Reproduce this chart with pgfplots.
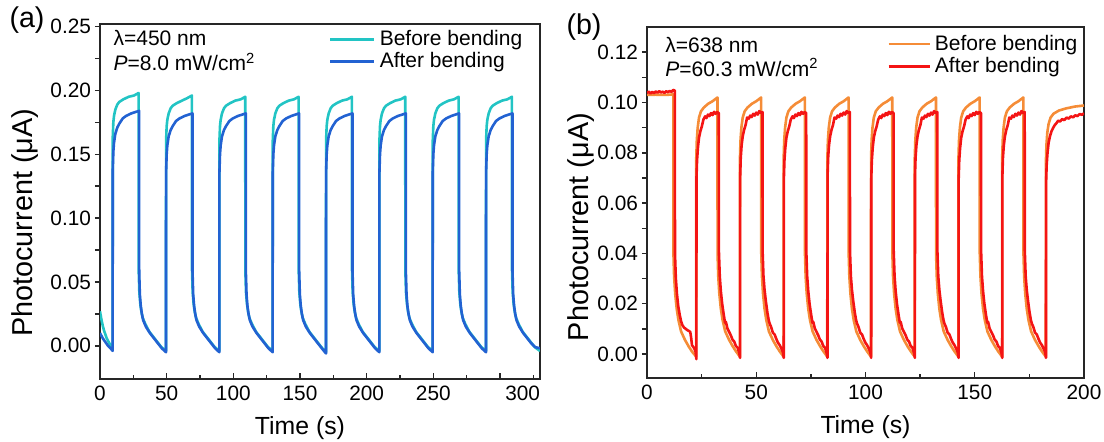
\documentclass[border=0pt]{standalone}
\usepackage{fontspec}
\setmainfont{Liberation Sans}
\usepackage{pgfplots}
\pgfplotsset{compat=1.18}
\definecolor{cBefA}{HTML}{22C4C4}
\definecolor{cAftA}{HTML}{2262D2}
\definecolor{cBefB}{HTML}{F58C37}
\definecolor{cAftB}{HTML}{F41414}
\pgfplotsset{
  photo/.style={
    scale only axis,
    axis line style={line width=0.7pt, black!85},
    tick style={line width=0.7pt, black!85},
    tick align=inside,
    major tick length=3pt, minor tick length=2.2pt,
    ytick style={xshift=-2.6pt},
    xtick pos=bottom, ytick pos=left,
    /pgf/number format/assume math mode=true,
    tick label style={font=\fontsize{10.4}{12}\selectfont},
    xlabel style={font=\fontsize{12.4}{14}\selectfont},
    ylabel style={font=\fontsize{14.4}{16}\selectfont},
    yticklabel style={/pgf/number format/fixed, /pgf/number format/fixed zerofill, /pgf/number format/precision=2, xshift=-1pt},
    legend cell align=left,
    legend image code/.code={\draw[#1] (0pt,0pt) -- (22pt,0pt);},
    every axis plot/.append style={line width=1.3pt, no markers, line join=round},
  },
}
\newcommand{\txt}{\fontsize{10.5}{12}\selectfont}
\begin{document}
\begin{tikzpicture}
\useasboundingbox (0,0) rectangle (552pt,220.5pt);
% ---------------- panel (a) ----------------
\begin{axis}[photo,
    at={(50pt,31pt)}, anchor=south west,
    width=220pt, height=177.5pt,
    xmin=0, xmax=330, ymin=-0.026, ymax=0.252,
    xtick={0,50,100,150,200,250,300}, xticklabels={0,50,100,150,200,250,{}},
    minor xtick={25,75,125,175,225,275,325},
    extra x ticks={317}, extra x tick labels={300}, extra x tick style={major tick length=0pt},
    ytick={0,0.05,0.10,0.15,0.20,0.25}, minor ytick={0.025,0.075,0.125,0.175,0.225},
    xlabel={Time (s)}, ylabel={Photocurrent (μA)},
    xlabel style={at={(axis description cs:0.4545,0)}, anchor=center, yshift=-24.5pt},
    ylabel style={at={(axis description cs:-0.17,0.44)}, anchor=center},
    legend style={at={(axis description cs:0.52,0.995)}, anchor=north west, draw=none, fill=none,
      inner sep=0pt, row sep=-2pt, font=\txt},
]
\addplot[cBefA] coordinates {
 (0,0.027) (1,0.021) (2,0.016) (3,0.012) (4,0.009) (5,0.006) (6,0.004) (7,0.002) (8,0.000) (9.5,-0.002)
 (9.55,0.163) (10,0.175) (10.5,0.180) (11.5,0.185) (13,0.189) (14.5,0.191) (17.5,0.193) (21.5,0.195) (25.5,0.196) (28.95,0.198)
 (29,0.060) (29.5,0.042) (30.2,0.033) (31,0.027) (32,0.022) (34,0.017) (37,0.011) (40,0.007) (43,0.003) (46,-0.001) (49.5,-0.004)
 (49.55,0.160) (50,0.172) (50.5,0.177) (51.5,0.182) (53,0.186) (54.5,0.188) (57.5,0.190) (61.5,0.192) (65.5,0.194) (68.95,0.196)
 (69,0.060) (69.5,0.042) (70.2,0.033) (71,0.027) (72,0.022) (74,0.017) (77,0.011) (80,0.007) (83,0.003) (86,-0.001) (89.5,-0.004)
 (89.55,0.160) (90,0.172) (90.5,0.177) (91.5,0.182) (93,0.186) (94.5,0.188) (97.5,0.190) (101.5,0.192) (105.5,0.193) (108.95,0.195)
 (109,0.060) (109.5,0.042) (110.2,0.033) (111,0.027) (112,0.022) (114,0.017) (117,0.011) (120,0.007) (123,0.003) (126,-0.001) (129.5,-0.004)
 (129.55,0.160) (130,0.172) (130.5,0.177) (131.5,0.182) (133,0.186) (134.5,0.188) (137.5,0.190) (141.5,0.192) (145.5,0.193) (148.95,0.195)
 (149,0.060) (149.5,0.042) (150.2,0.033) (151,0.027) (152,0.022) (154,0.017) (157,0.011) (160,0.007) (163,0.003) (166,-0.001) (169.5,-0.005)
 (169.55,0.160) (170,0.172) (170.5,0.177) (171.5,0.182) (173,0.186) (174.5,0.188) (177.5,0.190) (181.5,0.192) (185.5,0.193) (188.95,0.195)
 (189,0.060) (189.5,0.042) (190.2,0.033) (191,0.027) (192,0.022) (194,0.017) (197,0.011) (200,0.007) (203,0.003) (206,-0.001) (209.5,-0.004)
 (209.55,0.160) (210,0.172) (210.5,0.177) (211.5,0.182) (213,0.186) (214.5,0.188) (217.5,0.190) (221.5,0.192) (225.5,0.193) (228.95,0.195)
 (229,0.060) (229.5,0.042) (230.2,0.033) (231,0.027) (232,0.022) (234,0.017) (237,0.011) (240,0.007) (243,0.003) (246,-0.001) (249.5,-0.004)
 (249.55,0.160) (250,0.172) (250.5,0.177) (251.5,0.182) (253,0.186) (254.5,0.188) (257.5,0.190) (261.5,0.192) (265.5,0.193) (268.95,0.195)
 (269,0.060) (269.5,0.042) (270.2,0.033) (271,0.027) (272,0.022) (274,0.017) (277,0.011) (280,0.007) (283,0.003) (286,-0.001) (289.5,-0.004)
 (289.55,0.160) (290,0.172) (290.5,0.177) (291.5,0.182) (293,0.186) (294.5,0.188) (297.5,0.190) (301.5,0.192) (305.5,0.193) (308.95,0.195)
 (309,0.060) (309.5,0.042) (310.2,0.033) (311,0.027) (312,0.022) (314,0.017) (317,0.011) (320,0.007) (323,0.003) (326,-0.001) (330,-0.004)
};
\addlegendentry{Before bending}
\addplot[cAftA] coordinates {
 (0,0.010) (2,0.006) (4,0.003) (6,0.000) (8,-0.002) (9.5,-0.004)
 (9.55,0.137) (10,0.152) (10.5,0.159) (11.5,0.166) (13,0.171) (14.5,0.174) (17,0.178) (19.5,0.180) (23.5,0.182) (29.35,0.184)
 (29.4,0.058) (29.9,0.040) (30.6,0.031) (31.4,0.025) (32.4,0.020) (34.4,0.015) (37.4,0.010) (40.4,0.006) (43.4,0.002) (46.4,-0.002) (49.5,-0.005)
 (49.55,0.135) (50,0.150) (50.5,0.157) (51.5,0.164) (53,0.169) (54.5,0.172) (57,0.176) (59.5,0.178) (63.5,0.180) (69.35,0.182)
 (69.4,0.058) (69.9,0.040) (70.6,0.031) (71.4,0.025) (72.4,0.020) (74.4,0.015) (77.4,0.010) (80.4,0.006) (83.4,0.002) (86.4,-0.002) (89.5,-0.005)
 (89.55,0.135) (90,0.150) (90.5,0.157) (91.5,0.164) (93,0.169) (94.5,0.172) (97,0.176) (99.5,0.178) (103.5,0.180) (109.35,0.182)
 (109.4,0.058) (109.9,0.040) (110.6,0.031) (111.4,0.025) (112.4,0.020) (114.4,0.015) (117.4,0.010) (120.4,0.006) (123.4,0.002) (126.4,-0.002) (129.5,-0.005)
 (129.55,0.135) (130,0.150) (130.5,0.157) (131.5,0.164) (133,0.169) (134.5,0.172) (137,0.176) (139.5,0.178) (143.5,0.180) (149.35,0.182)
 (149.4,0.058) (149.9,0.040) (150.6,0.031) (151.4,0.025) (152.4,0.020) (154.4,0.015) (157.4,0.010) (160.4,0.006) (163.4,0.002) (166.4,-0.002) (169.5,-0.006)
 (169.55,0.135) (170,0.150) (170.5,0.157) (171.5,0.164) (173,0.169) (174.5,0.172) (177,0.176) (179.5,0.178) (183.5,0.180) (189.35,0.182)
 (189.4,0.058) (189.9,0.040) (190.6,0.031) (191.4,0.025) (192.4,0.020) (194.4,0.015) (197.4,0.010) (200.4,0.006) (203.4,0.002) (206.4,-0.002) (209.5,-0.005)
 (209.55,0.135) (210,0.150) (210.5,0.157) (211.5,0.164) (213,0.169) (214.5,0.172) (217,0.176) (219.5,0.178) (223.5,0.180) (229.35,0.182)
 (229.4,0.058) (229.9,0.040) (230.6,0.031) (231.4,0.025) (232.4,0.020) (234.4,0.015) (237.4,0.010) (240.4,0.006) (243.4,0.002) (246.4,-0.002) (249.5,-0.005)
 (249.55,0.135) (250,0.150) (250.5,0.157) (251.5,0.164) (253,0.169) (254.5,0.172) (257,0.176) (259.5,0.178) (263.5,0.180) (269.35,0.182)
 (269.4,0.058) (269.9,0.040) (270.6,0.031) (271.4,0.025) (272.4,0.020) (274.4,0.015) (277.4,0.010) (280.4,0.006) (283.4,0.002) (286.4,-0.002) (289.5,-0.005)
 (289.55,0.135) (290,0.150) (290.5,0.157) (291.5,0.164) (293,0.169) (294.5,0.172) (297,0.176) (299.5,0.178) (303.5,0.180) (309.35,0.182)
 (309.4,0.058) (309.9,0.040) (310.6,0.031) (311.4,0.025) (312.4,0.020) (314.4,0.015) (317.4,0.010) (320.4,0.006) (323.4,0.002) (326.4,-0.001) (330,-0.002)
};
\addlegendentry{After bending}
\node[anchor=west, font=\txt, inner sep=0pt] at (axis description cs:0.03,0.96) {λ=450 nm};
\node[anchor=west, font=\txt, inner sep=0pt] at (axis description cs:0.03,0.893) {\textit{P}=8.0 mW/cm\textsuperscript{2}};
\end{axis}
% ---------------- panel (b) ----------------
\begin{axis}[photo,
    at={(323.5pt,31.5pt)}, anchor=south west,
    width=218.5pt, height=175.5pt,
    xmin=0, xmax=200, ymin=-0.0095, ymax=0.130,
    xtick={0,50,100,150,200}, minor xtick={25,75,125,175},
    ytick={0,0.02,0.04,0.06,0.08,0.10,0.12}, minor ytick={0.01,0.03,0.05,0.07,0.09,0.11},
    xlabel={Time (s)}, ylabel={Photocurrent (μA)},
    xlabel style={at={(axis description cs:0.5,0)}, anchor=center, yshift=-24.5pt},
    ylabel style={at={(axis description cs:-0.152,0.43)}, anchor=center},
    legend image code/.code={\draw[#1] (0pt,0pt) -- (20.5pt,0pt);},
    legend style={at={(axis description cs:0.549,0.99)}, anchor=north west, draw=none, fill=none,
      inner sep=0pt, row sep=-2pt, font=\txt},
]
\addplot[cBefB] coordinates {
 (0,0.1030) (4,0.1031) (8,0.1030) (12.05,0.1032)
 (12.1,0.040) (12.4,0.031) (12.9,0.024) (13.6,0.018) (14.4,0.0135) (15.6,0.009) (17.4,0.0056) (19.1,0.003) (20.6,0.001)
 (22.5,-0.001) (22.55,0.078) (22.8,0.085) (23.2,0.090) (23.8,0.094) (24.7,0.0965) (26,0.098) (28,0.0995) (30,0.1005) (32.25,0.102)
 (32.3,0.040) (32.6,0.031) (33.1,0.024) (33.8,0.018) (34.6,0.0135) (35.8,0.009) (37.6,0.0056) (39.3,0.003) (40.8,0.001)
 (42.5,-0.001) (42.55,0.078) (42.8,0.085) (43.2,0.090) (43.8,0.094) (44.7,0.0965) (46,0.098) (48,0.0995) (50,0.1005) (52.25,0.102)
 (52.3,0.040) (52.6,0.031) (53.1,0.024) (53.8,0.018) (54.6,0.0135) (55.8,0.009) (57.6,0.0056) (59.3,0.003) (60.8,0.001)
 (62.5,-0.001) (62.55,0.078) (62.8,0.085) (63.2,0.090) (63.8,0.094) (64.7,0.0965) (66,0.098) (68,0.0995) (70,0.1005) (72.25,0.102)
 (72.3,0.040) (72.6,0.031) (73.1,0.024) (73.8,0.018) (74.6,0.0135) (75.8,0.009) (77.6,0.0056) (79.3,0.003) (80.8,0.001)
 (82.5,-0.001) (82.55,0.078) (82.8,0.085) (83.2,0.090) (83.8,0.094) (84.7,0.0965) (86,0.098) (88,0.0995) (90,0.1005) (92.25,0.102)
 (92.3,0.040) (92.6,0.031) (93.1,0.024) (93.8,0.018) (94.6,0.0135) (95.8,0.009) (97.6,0.0056) (99.3,0.003) (100.8,0.001)
 (102.5,-0.001) (102.55,0.078) (102.8,0.085) (103.2,0.090) (103.8,0.094) (104.7,0.0965) (106,0.098) (108,0.0995) (110,0.1005) (112.25,0.102)
 (112.3,0.040) (112.6,0.031) (113.1,0.024) (113.8,0.018) (114.6,0.0135) (115.8,0.009) (117.6,0.0056) (119.3,0.003) (120.8,0.001)
 (122.5,-0.001) (122.55,0.078) (122.8,0.085) (123.2,0.090) (123.8,0.094) (124.7,0.0965) (126,0.098) (128,0.0995) (130,0.1005) (132.25,0.102)
 (132.3,0.040) (132.6,0.031) (133.1,0.024) (133.8,0.018) (134.6,0.0135) (135.8,0.009) (137.6,0.0056) (139.3,0.003) (140.8,0.001)
 (142.5,-0.001) (142.55,0.078) (142.8,0.085) (143.2,0.090) (143.8,0.094) (144.7,0.0965) (146,0.098) (148,0.0995) (150,0.1005) (152.25,0.102)
 (152.3,0.040) (152.6,0.031) (153.1,0.024) (153.8,0.018) (154.6,0.0135) (155.8,0.009) (157.6,0.0056) (159.3,0.003) (160.8,0.001)
 (162.5,-0.001) (162.55,0.078) (162.8,0.085) (163.2,0.090) (163.8,0.094) (164.7,0.0965) (166,0.098) (168,0.0995) (170,0.1005) (172.25,0.102)
 (172.3,0.040) (172.6,0.031) (173.1,0.024) (173.8,0.018) (174.6,0.0135) (175.8,0.009) (177.6,0.0056) (179.3,0.003) (180.8,0.001)
 (182.5,-0.001) (182.55,0.076) (182.8,0.083) (183.2,0.088) (183.8,0.0915) (184.7,0.094) (186,0.0955) (188.5,0.0968) (192,0.0977) (196,0.0984) (200,0.0988)
};
\addlegendentry{Before bending}
\addplot[cAftB] coordinates {
 (0,0.1038) (0.8,0.1043) (1.6,0.1036) (2.4,0.1042) (3.2,0.1037) (4,0.1044) (4.8,0.1039) (5.6,0.1045) (6.4,0.1040) (7.2,0.1043)
 (8,0.1038) (8.8,0.1045) (9.6,0.1041) (10.4,0.1046) (11.2,0.1042) (12,0.1050) (12.75,0.1047)
 (12.8,0.040) (13.2,0.030) (13.7,0.024) (14.3,0.019) (15,0.0155) (15.6,0.013) (16.2,0.0115) (17,0.0105) (17.8,0.010) (18.5,0.0095)
 (19.2,0.0092) (19.8,0.0088) (20.2,0.0065) (20.6,0.0035) (21.5,0.0025) (22.2,0.001)
 (22.6,-0.002) (22.65,0.070) (22.9,0.077) (23.3,0.082) (23.8,0.086) (24.4,0.0885) (25.1,0.0905) (25.8,0.0932) (26.6,0.0945) (27.2,0.0938) (27.9,0.0952) (28.6,0.0946) (29.3,0.0958) (30.0,0.0950) (30.7,0.0963) (31.4,0.0955) (32.1,0.0962) (32.85,0.0958)
 (32.9,0.041) (33.3,0.031) (33.8,0.025) (34.4,0.020) (35.1,0.0158) (35.7,0.0125) (36.1,0.0128) (36.8,0.0102) (37.6,0.0088) (38.4,0.0074) (39.1,0.0058) (39.9,0.0050) (40.7,0.0032) (41.5,0.0025) (42.2,0.0005)
 (42.6,-0.0015) (42.65,0.071) (42.9,0.078) (43.3,0.083) (43.8,0.0865) (44.4,0.089) (45.1,0.091) (45.8,0.0940) (46.6,0.0936) (47.2,0.0948) (47.9,0.0942) (48.6,0.0955) (49.3,0.0948) (50.0,0.0960) (50.7,0.0952) (51.4,0.0966) (52.1,0.0958) (52.85,0.0962)
 (52.9,0.041) (53.3,0.031) (53.8,0.0255) (54.4,0.021) (55.1,0.0165) (55.7,0.0135) (56.1,0.0122) (56.8,0.0108) (57.6,0.0085) (58.4,0.0078) (59.1,0.0062) (59.9,0.0046) (60.7,0.0036) (61.5,0.0022) (62.2,0.0008)
 (62.6,-0.0015) (62.65,0.070) (62.9,0.077) (63.3,0.082) (63.8,0.086) (64.4,0.0885) (65.1,0.0905) (65.8,0.0932) (66.6,0.0945) (67.2,0.0938) (67.9,0.0952) (68.6,0.0946) (69.3,0.0958) (70.0,0.0950) (70.7,0.0963) (71.4,0.0955) (72.1,0.0962) (72.85,0.0958)
 (72.9,0.041) (73.3,0.031) (73.8,0.025) (74.4,0.020) (75.1,0.0158) (75.7,0.0125) (76.1,0.0128) (76.8,0.0102) (77.6,0.0088) (78.4,0.0074) (79.1,0.0058) (79.9,0.0050) (80.7,0.0032) (81.5,0.0025) (82.2,0.0005)
 (82.6,-0.0015) (82.65,0.071) (82.9,0.078) (83.3,0.083) (83.8,0.0865) (84.4,0.089) (85.1,0.091) (85.8,0.0940) (86.6,0.0936) (87.2,0.0948) (87.9,0.0942) (88.6,0.0955) (89.3,0.0948) (90.0,0.0960) (90.7,0.0952) (91.4,0.0966) (92.1,0.0958) (92.85,0.0962)
 (92.9,0.041) (93.3,0.031) (93.8,0.0255) (94.4,0.021) (95.1,0.0165) (95.7,0.0135) (96.1,0.0122) (96.8,0.0108) (97.6,0.0085) (98.4,0.0078) (99.1,0.0062) (99.9,0.0046) (100.7,0.0036) (101.5,0.0022) (102.2,0.0008)
 (102.6,-0.0015) (102.65,0.070) (102.9,0.077) (103.3,0.082) (103.8,0.086) (104.4,0.0885) (105.1,0.0905) (105.8,0.0932) (106.6,0.0945) (107.2,0.0938) (107.9,0.0952) (108.6,0.0946) (109.3,0.0958) (110.0,0.0950) (110.7,0.0963) (111.4,0.0955) (112.1,0.0962) (112.85,0.0958)
 (112.9,0.041) (113.3,0.031) (113.8,0.025) (114.4,0.020) (115.1,0.0158) (115.7,0.0125) (116.1,0.0128) (116.8,0.0102) (117.6,0.0088) (118.4,0.0074) (119.1,0.0058) (119.9,0.0050) (120.7,0.0032) (121.5,0.0025) (122.2,0.0005)
 (122.6,-0.0015) (122.65,0.071) (122.9,0.078) (123.3,0.083) (123.8,0.0865) (124.4,0.089) (125.1,0.091) (125.8,0.0940) (126.6,0.0936) (127.2,0.0948) (127.9,0.0942) (128.6,0.0955) (129.3,0.0948) (130.0,0.0960) (130.7,0.0952) (131.4,0.0966) (132.1,0.0958) (132.85,0.0962)
 (132.9,0.041) (133.3,0.031) (133.8,0.0255) (134.4,0.021) (135.1,0.0165) (135.7,0.0135) (136.1,0.0122) (136.8,0.0108) (137.6,0.0085) (138.4,0.0078) (139.1,0.0062) (139.9,0.0046) (140.7,0.0036) (141.5,0.0022) (142.2,0.0008)
 (142.6,-0.0015) (142.65,0.070) (142.9,0.077) (143.3,0.082) (143.8,0.086) (144.4,0.0885) (145.1,0.0905) (145.8,0.0932) (146.6,0.0945) (147.2,0.0938) (147.9,0.0952) (148.6,0.0946) (149.3,0.0958) (150.0,0.0950) (150.7,0.0963) (151.4,0.0955) (152.1,0.0962) (152.85,0.0958)
 (152.9,0.041) (153.3,0.031) (153.8,0.025) (154.4,0.020) (155.1,0.0158) (155.7,0.0125) (156.1,0.0128) (156.8,0.0102) (157.6,0.0088) (158.4,0.0074) (159.1,0.0058) (159.9,0.0050) (160.7,0.0032) (161.5,0.0025) (162.2,0.0005)
 (162.6,-0.0015) (162.65,0.071) (162.9,0.078) (163.3,0.083) (163.8,0.0865) (164.4,0.089) (165.1,0.091) (165.8,0.0940) (166.6,0.0936) (167.2,0.0948) (167.9,0.0942) (168.6,0.0955) (169.3,0.0948) (170.0,0.0960) (170.7,0.0952) (171.4,0.0966) (172.1,0.0958) (172.85,0.0962)
 (172.9,0.041) (173.3,0.031) (173.8,0.0255) (174.4,0.021) (175.1,0.0165) (175.7,0.0135) (176.1,0.0122) (176.8,0.0108) (177.6,0.0085) (178.4,0.0078) (179.1,0.0062) (179.9,0.0046) (180.7,0.0036) (181.5,0.0022) (182.2,0.0008)
 (182.6,-0.0015) (182.65,0.068) (182.9,0.075) (183.3,0.080) (183.8,0.084) (184.4,0.0865) (185.1,0.0885) (185.8,0.0898) (186.6,0.0910) (187.4,0.0918) (188.2,0.0928) (189,0.0924) (190,0.0934) (191,0.0930) (192,0.0940) (193,0.0936) (194,0.0945) (195,0.0941) (196,0.0949) (197,0.0946) (198,0.0954) (199,0.0951) (200,0.0957)
};
\addlegendentry{After bending}
\node[anchor=west, font=\txt, inner sep=0pt] at (axis description cs:0.041,0.949) {λ=638 nm};
\node[anchor=west, font=\txt, inner sep=0pt] at (axis description cs:0.041,0.886) {\textit{P}=60.3 mW/cm\textsuperscript{2}};
\end{axis}
\node[font=\fontsize{14.3}{16}\selectfont] at (13.5pt,210.5pt) {(a)};
\node[font=\fontsize{14.3}{16}\selectfont] at (292pt,207pt) {(b)};
\end{tikzpicture}
\end{document}
